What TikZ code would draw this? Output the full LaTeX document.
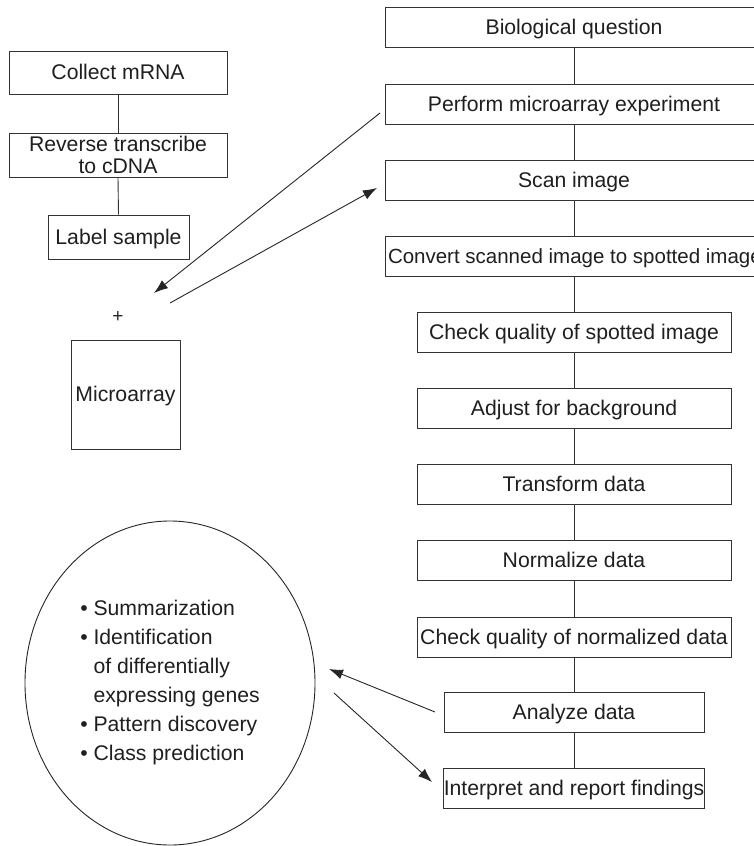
\documentclass[tikz,border=0pt]{standalone}
\usepackage{fontspec}
\setmainfont{Liberation Sans}
\usetikzlibrary{arrows.meta,shapes.geometric}
\newcommand{\figfont}{\fontsize{21.2}{22.5}\selectfont}
\newcommand{\listfont}{\fontsize{21.2}{29}\selectfont}
\begin{document}
\begin{tikzpicture}[x=1pt,y=-1pt,
  box/.style={draw=black!80, line width=0.9pt, rectangle, inner sep=0pt,
              text=black!88, align=center, font=\figfont, minimum height=40pt,
              text height=14.5pt, text depth=0pt},
  link/.style={draw=black!80, line width=0.9pt},
  arr/.style={draw=black!85, line width=0.9pt, -{Latex[length=14pt,width=10pt]}}]
\useasboundingbox (0,0) rectangle (754,846);
\clip (0,0) rectangle (754,846);
\fill[white] (0,0) rectangle (754,846);

% right column
\node[box, minimum width=378pt] (bq)  at (574,27)  {Biological question};
\node[box, minimum width=378pt] (pm)  at (574,104) {Perform microarray experiment};
\node[box, minimum width=378pt] (si)  at (574,180) {Scan image};
\node[box, minimum width=378pt] (cv)  at (574,256) {\makebox[372pt][l]{\fontsize{20.5}{22.5}\selectfont Convert scanned image to spotted image}};
\node[box, minimum width=314pt] (cq)  at (574,332) {Check quality of spotted image};
\node[box, minimum width=314pt] (ab)  at (574,408) {Adjust for background};
\node[box, minimum width=314pt] (td)  at (574,484) {Transform data};
\node[box, minimum width=314pt] (nd)  at (574,560) {Normalize data};
\node[box, minimum width=314pt] (cn)  at (574,637) {Check quality of normalized data};
\node[box, minimum width=260pt] (ad)  at (574,712) {Analyze data};
\node[box, minimum width=260pt] (ir)  at (574,788.5) {Interpret and report findings};

\foreach \a/\b in {bq/pm, pm/si, si/cv, cv/cq, cq/ab, ab/td, td/nd, nd/cn, cn/ad, ad/ir}
  \draw[link] (\a.south) -- (\b.north);

% left column
\node[box, minimum width=218pt, minimum height=43pt] (cm) at (118,72.5) {Collect mRNA};
\node[box, minimum width=218pt, minimum height=44pt, text height=37pt] (rt) at (118,155) {Reverse transcribe\\to cDNA};
\node[box, minimum width=141pt, minimum height=44pt] (ls) at (118.5,237) {Label sample};
\draw[link] (cm.south) -- (rt.north);
\draw[link] (rt.south) -- (ls.north);

\node[text=black!85, font=\fontsize{19}{19}\selectfont, inner sep=0pt] (plus) at (118,317) {+};
\node[box, minimum width=109pt, minimum height=109pt] (ma) at (125.5,394.5) {Microarray};

% ellipse with list
\node[draw=black!85, line width=0.9pt, ellipse, minimum width=290pt, minimum height=324pt,
      inner sep=0pt, text=black!88, align=left, font=\listfont] (el) at (170,683)
  {\textbullet\ Summarization\\
   \textbullet\ Identification\\
   \hphantom{\textbullet\ }of differentially\\
   \hphantom{\textbullet\ }expressing genes\\
   \textbullet\ Pattern discovery\\
   \textbullet\ Class prediction};

% arrow end points
\coordinate (a1s) at (380,113);
\coordinate (a1e) at (154,293);
\coordinate (a2s) at (170,303);
\coordinate (a2e) at (377,188);
\coordinate (a3s) at (435,712);
\coordinate (a3e) at (329,669);
\coordinate (a4s) at (334,693);
\coordinate (a4e) at (432,782);

\draw[arr] (a1s) -- (a1e);
\draw[arr] (a2s) -- (a2e);
\draw[arr] (a3s) -- (a3e);
\draw[arr] (a4s) -- (a4e);
\end{tikzpicture}
\end{document}
